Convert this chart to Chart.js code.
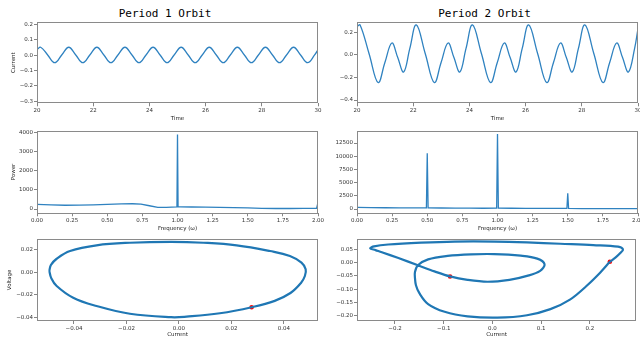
<!DOCTYPE html>
<html>
<head>
<meta charset="utf-8">
<script src="https://cdn.jsdelivr.net/npm/chart.js@4.4.0/dist/chart.umd.min.js"></script>
<style>
    html, body { margin: 0; padding: 0; background: #fff; }
    body { width: 640px; height: 339px; position: relative; overflow: hidden; }
    canvas { position: absolute; }
    .title {
        position: absolute;
        font-family: "DejaVu Sans Mono", monospace;
        font-size: 11px;
        line-height: 11px;
        color: #000;
        white-space: nowrap;
        transform: translateX(-50%);
    }
</style>
</head>
<body>
<div class="title" style="left:165px; top:8px">Period 1 Orbit</div>
<div class="title" style="left:484.5px; top:8px">Period 2 Orbit</div>
<canvas id="timeChart1"></canvas>
<canvas id="timeChart2"></canvas>
<canvas id="powerChart1"></canvas>
<canvas id="powerChart2"></canvas>
<canvas id="phaseChart1"></canvas>
<canvas id="phaseChart2"></canvas>
<script>
// period 1 time series
const time1 = [20, 20.13, 20.38, 20.63, 20.88, 21.13, 21.38, 21.63, 21.88, 22.13, 22.38, 22.63, 22.88,
    23.13, 23.38, 23.63, 23.88, 24.13, 24.38, 24.63, 24.88, 25.13, 25.38, 25.63, 25.88, 26.13, 26.38,
    26.63, 26.88, 27.13, 27.38, 27.63, 27.88, 28.13, 28.38, 28.63, 28.88, 29.13, 29.38, 29.63, 29.88, 30];
const current1 = [0.035,
    0.051, 0.001, -0.049, 0.001, 0.051, 0.001, -0.049, 0.001, 0.051, 0.001, -0.049, 0.001,
    0.051, 0.001, -0.049, 0.001, 0.051, 0.001, -0.049, 0.001, 0.051, 0.001, -0.049, 0.001,
    0.051, 0.001, -0.049, 0.001, 0.051, 0.001, -0.049, 0.001, 0.051, 0.001, -0.049, 0.001,
    0.051, 0.001, -0.049, 0.001, 0.036];

// period 2 time series
const time2 = [20, 20.11, 20.43, 20.75, 20.99, 21.24, 21.45, 21.66, 21.88,
    22.11, 22.43, 22.75, 22.99, 23.24, 23.45, 23.66, 23.88,
    24.11, 24.43, 24.75, 24.99, 25.24, 25.45, 25.66, 25.88,
    26.11, 26.43, 26.75, 26.99, 27.24, 27.45, 27.66, 27.88,
    28.11, 28.43, 28.75, 28.99, 29.24, 29.45, 29.66, 29.88, 30];
const current2 = [0.25,
    0.265, 0.01, -0.245, -0.07, 0.105, -0.024, -0.152, 0.057,
    0.265, 0.01, -0.245, -0.07, 0.105, -0.024, -0.152, 0.057,
    0.265, 0.01, -0.245, -0.07, 0.105, -0.024, -0.152, 0.057,
    0.265, 0.01, -0.245, -0.07, 0.105, -0.024, -0.152, 0.057,
    0.265, 0.01, -0.245, -0.07, 0.105, -0.024, -0.152, 0.057, 0.232];

// power spectra
const freq1 = [0, 0.1, 0.2, 0.3, 0.4, 0.5, 0.6, 0.68, 0.74, 0.8, 0.86, 0.92, 0.996, 1.0, 1.004,
    1.02, 1.1, 1.2, 1.3, 1.4, 1.5, 1.6, 1.7, 1.8, 1.9, 1.99, 2.0];
const power1 = [240, 215, 195, 200, 220, 245, 265, 275, 250, 170, 90, 85, 105, 3890, 115,
    110, 105, 95, 85, 75, 55, 35, 25, 25, 35, 40, 330];
const freq2 = [0, 0.1, 0.2, 0.3, 0.4, 0.494, 0.5, 0.506, 0.6, 0.7, 0.8, 0.9, 0.994, 1.0, 1.006,
    1.1, 1.2, 1.3, 1.4, 1.494, 1.5, 1.506, 1.6, 1.8, 1.95, 2.0];
const power2 = [300, 270, 240, 220, 205, 220, 10540, 220, 190, 170, 150, 140, 150, 14200, 150,
    140, 130, 120, 110, 110, 2970, 110, 90, 70, 60, 80];

// phase portraits (current vs voltage)
const loopCurrent1 = [-0.0494, -0.0488, -0.0466, -0.0415, -0.0314, -0.0187, -0.0030, 0.0093, 0.0220,
    0.0347, 0.0423, 0.0467, 0.0483, 0.0480, 0.0465, 0.0425, 0.0365, 0.0277, 0.0156, 0.0029, -0.0030,
    -0.0187, -0.0314, -0.0403, -0.0466, -0.0487, -0.0494];
const loopVoltage1 = [0.0012, 0.0065, 0.0121, 0.0190, 0.0241, 0.0264, 0.0272, 0.0264, 0.0241,
    0.0190, 0.0146, 0.0086, 0.0027, -0.0033, -0.0095, -0.0185, -0.0255, -0.0312, -0.0366, -0.0396,
    -0.0401, -0.0370, -0.0301, -0.0227, -0.0122, -0.0050, 0.0012];
const dotCurrent1 = [0.0277];
const dotVoltage1 = [-0.0312];

const loopCurrent2 = [0.241, 0.253, 0.263, 0.268, 0.258, 0.207, 0.139, 0.071, 0.005, -0.078, -0.146,
    -0.214, -0.243, -0.251, -0.240, -0.227, -0.193, -0.153, -0.119, -0.087, -0.051, -0.010, 0.035,
    0.071, 0.098, 0.107, 0.092, 0.058, 0.004, -0.044, -0.092, -0.132, -0.153, -0.159, -0.159, -0.157,
    -0.150, -0.132, -0.098, -0.051, 0.010, 0.071, 0.119, 0.160, 0.193, 0.221, 0.241];
const loopVoltage2 = [0.003, 0.020, 0.037, 0.050, 0.060, 0.066, 0.071, 0.076, 0.079, 0.079, 0.075,
    0.068, 0.061, 0.054, 0.047, 0.039, 0.017, -0.010, -0.033, -0.052, -0.065, -0.072, -0.065,
    -0.050, -0.031, -0.006, 0.015, 0.026, 0.032, 0.031, 0.025, 0.012, -0.010, -0.035, -0.058, -0.085,
    -0.115, -0.156, -0.185, -0.202, -0.207, -0.198, -0.175, -0.138, -0.088, -0.038, 0.003];
const dotCurrent2 = [0.241, -0.087];
const dotVoltage2 = [0.003, -0.052];

// tick values
const timeTicks = [20, 22, 24, 26, 28, 30];
const current1Ticks = [-0.3, -0.2, -0.1, 0, 0.1, 0.2];
const current2Ticks = [-0.4, -0.2, 0, 0.2];
const freqTicks = [0, 0.25, 0.5, 0.75, 1, 1.25, 1.5, 1.75, 2];
const power1Ticks = [0, 1000, 2000, 3000, 4000];
const power2Ticks = [0, 2500, 5000, 7500, 10000, 12500];
const phaseX1Ticks = [-0.04, -0.02, 0, 0.02, 0.04];
const phaseY1Ticks = [-0.04, -0.02, 0, 0.02];
const phaseX2Ticks = [-0.2, -0.1, 0, 0.1, 0.2];
const phaseY2Ticks = [-0.2, -0.15, -0.1, -0.05, 0, 0.05];

const lineBlue = '#2f82c0';
const loopBlue = '#1f77b4';

function pairs(xs, ys) {
    return xs.map((x, i) => ({ x: x, y: ys[i] }));
}

function fmt(v, dec) {
    const s = Math.abs(v).toFixed(dec);
    return (v < -1e-9 ? '\u2212' : '') + s;
}

// box around the plot area like matplotlib spines
const frame = {
    id: 'frame',
    afterDraw(chart) {
        const { ctx, chartArea: a } = chart;
        ctx.save();
        ctx.strokeStyle = '#8a8a8a';
        ctx.lineWidth = 1;
        ctx.strokeRect(Math.round(a.left) + 0.5, Math.round(a.top) + 0.5,
            Math.round(a.right - a.left) - 1, Math.round(a.bottom - a.top) - 1);
        ctx.restore();
    }
};

const tickFont = { family: 'DejaVu Sans', size: 5.5 };

function axis(spec, isX, fixed) {
    return {
        type: 'linear',
        position: isX ? 'bottom' : 'left',
        min: spec.min,
        max: spec.max,
        afterBuildTicks: s => { s.ticks = spec.ticks.map(v => ({ value: v })); },
        afterFit: s => {
            if (isX) s.height = fixed; else s.width = fixed;
            s.paddingLeft = 0; s.paddingRight = 0; s.paddingTop = 0; s.paddingBottom = 0;
        },
        ticks: {
            callback: v => fmt(v, spec.dec),
            font: tickFont,
            color: '#333',
            padding: 1,
            maxRotation: 0,
            autoSkip: false
        },
        grid: { drawOnChartArea: false, tickLength: 3, tickColor: '#666', lineWidth: 0.8 },
        border: { display: false },
        title: spec.title
            ? { display: true, text: spec.title, font: tickFont, color: '#222', padding: spec.tpad }
            : { display: false }
    };
}

function makeChart(id, pos, datasets, xSpec, ySpec) {
    const cv = document.getElementById(id);
    cv.width = pos.w; cv.height = pos.h;
    cv.style.left = pos.x + 'px'; cv.style.top = pos.y + 'px';
    cv.style.width = pos.w + 'px'; cv.style.height = pos.h + 'px';
    const a = pos.area;
    return new Chart(cv, {
        type: 'scatter',
        data: { datasets: datasets },
        options: {
            responsive: false,
            animation: false,
            events: [],
            layout: { padding: { left: 0, top: a.t - pos.y, right: pos.x + pos.w - a.r, bottom: 0 } },
            plugins: { legend: { display: false }, tooltip: { enabled: false } },
            scales: {
                x: axis(xSpec, true, pos.y + pos.h - a.b),
                y: axis(ySpec, false, a.l - pos.x)
            }
        },
        plugins: [frame]
    });
}

function lineSet(xs, ys, color, width, tension) {
    return {
        data: pairs(xs, ys), showLine: true, borderColor: color, borderWidth: width,
        pointRadius: 0, tension: tension, fill: false
    };
}

function dotSet(xs, ys) {
    return {
        data: pairs(xs, ys), showLine: false, pointRadius: 2.3, pointBorderWidth: 0,
        backgroundColor: '#ff0000', borderColor: '#ff0000'
    };
}

// top row
makeChart('timeChart1', { x: 0, y: 18, w: 330, h: 106, area: { l: 37, t: 22, r: 318, b: 103.3 } },
    [lineSet(time1, current1, lineBlue, 1.3, 0.4)],
    { min: 20, max: 30, ticks: timeTicks, dec: 0, title: 'Time', tpad: { top: 0, bottom: 2.4 } },
    { min: -0.313, max: 0.215, ticks: current1Ticks, dec: 1, title: 'Current', tpad: { top: 10, bottom: 0 } });

makeChart('timeChart2', { x: 320, y: 18, w: 320, h: 106, area: { l: 357, t: 22, r: 638, b: 103.3 } },
    [lineSet(time2, current2, lineBlue, 1.3, 0.4)],
    { min: 20, max: 30, ticks: timeTicks, dec: 0, title: 'Time', tpad: { top: 0, bottom: 2.4 } },
    { min: -0.429, max: 0.291, ticks: current2Ticks, dec: 1 });

// middle row
makeChart('powerChart1', { x: 0, y: 124, w: 330, h: 111, area: { l: 37, t: 130.7, r: 318, b: 213.3 } },
    [lineSet(freq1, power1, lineBlue, 1.3, 0)],
    { min: 0, max: 2, ticks: freqTicks, dec: 2, title: 'Frequency (\u03c9)', tpad: { top: 0, bottom: 2.7 } },
    { min: -224, max: 4083, ticks: power1Ticks, dec: 0, title: 'Power', tpad: { top: 10, bottom: 0 } });

makeChart('powerChart2', { x: 320, y: 124, w: 320, h: 111, area: { l: 357, t: 130.7, r: 638, b: 213.3 } },
    [lineSet(freq2, power2, lineBlue, 1.3, 0)],
    { min: 0, max: 2, ticks: freqTicks, dec: 2, title: 'Frequency (\u03c9)', tpad: { top: 0, bottom: 2.7 } },
    { min: -814, max: 14830, ticks: power2Ticks, dec: 0 });

// bottom row
makeChart('phaseChart1', { x: 0, y: 232, w: 330, h: 107, area: { l: 37, t: 238.7, r: 318, b: 321 } },
    [lineSet(loopCurrent1, loopVoltage1, loopBlue, 2.2, 0.4), dotSet(dotCurrent1, dotVoltage1)],
    { min: -0.0541, max: 0.0530, ticks: phaseX1Ticks, dec: 2, title: 'Current', tpad: { top: 0, bottom: 0.7 } },
    { min: -0.0435, max: 0.030, ticks: phaseY1Ticks, dec: 2, title: 'Voltage', tpad: { top: 6, bottom: 0 } });

makeChart('phaseChart2', { x: 320, y: 232, w: 320, h: 107, area: { l: 357, t: 238.7, r: 638, b: 321 } },
    [lineSet(loopCurrent2, loopVoltage2, loopBlue, 2.2, 0.35), dotSet(dotCurrent2, dotVoltage2)],
    { min: -0.278, max: 0.2947, ticks: phaseX2Ticks, dec: 1, title: 'Current', tpad: { top: 0, bottom: 0.7 } },
    { min: -0.2196, max: 0.0899, ticks: phaseY2Ticks, dec: 2 });
</script>
</body>
</html>
